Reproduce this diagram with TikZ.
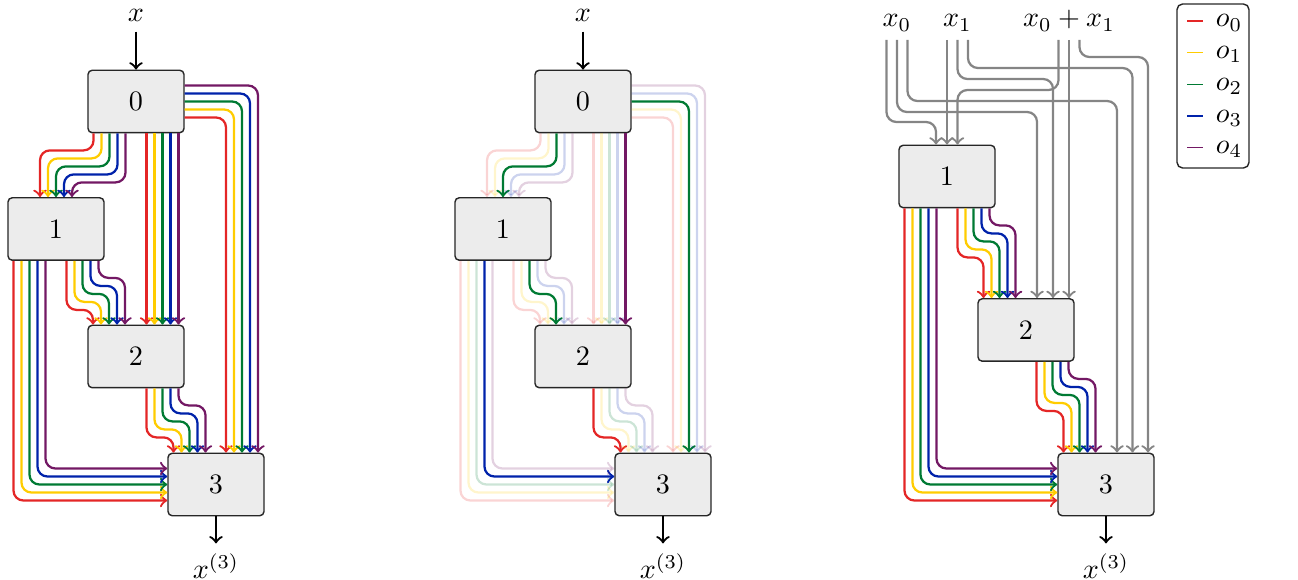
\documentclass[tikz,border=0pt]{standalone}
\usetikzlibrary{calc}

\definecolor{ored}{RGB}{228,38,38}
\definecolor{oyellow}{RGB}{255,204,0}
\definecolor{ogreen}{RGB}{0,122,51}
\definecolor{oblue}{RGB}{0,34,170}
\definecolor{opurple}{RGB}{115,24,100}

\tikzset{
  blk/.style={draw=black!85, line width=0.5pt, fill=gray!15, rounded corners=1.5pt,
    minimum width=1.2cm, minimum height=0.78cm, inner sep=0pt},
  wire/.style={line width=0.8pt, rounded corners=3.5pt, ->},
  gwire/.style={wire, draw=black!48},
  io/.style={line width=0.8pt, ->},
}

% Five-colour wiring of a four-block chain; #1 = name prefix,
% #2..#7 = index of the only opaque wire in each bundle (-1: all opaque)
\newcommand\wiring[7]{%
  \foreach \i/\col in {0/ored,1/oyellow,2/ogreen,3/oblue,4/opurple}{%
    % block 0 -> block 1
    \pgfmathsetmacro\op{(#2==-1) ? 1 : ((\i==#2) ? 1 : 0.2)}
    \draw[wire, draw=\col, opacity=\op] ($(#1b0.south)+(-42.5+8*\i,0)$) -- ++(0,17+8*\i)
      -| ($(#1b1.north)+(-16+8*\i,0)$);
    % block 0 -> block 2
    \pgfmathsetmacro\op{(#3==-1) ? 1 : ((\i==#3) ? 1 : 0.2)}
    \draw[wire, draw=\col, opacity=\op] ($(#1b0.south)+(10.5+8*\i,0)$)
      -- ($(#1b2.north)+(10.5+8*\i,0)$);
    % block 0 -> block 3
    \pgfmathsetmacro\op{(#4==-1) ? 1 : ((\i==#4) ? 1 : 0.2)}
    \draw[wire, draw=\col, opacity=\op] ($(#1b0.east)+(0,16-8*\i)$)
      -| ($(#1b3.north)+(10+8*\i,0)$);
    % block 1 -> block 3
    \pgfmathsetmacro\op{(#5==-1) ? 1 : ((\i==#5) ? 1 : 0.2)}
    \draw[wire, draw=\col, opacity=\op] ($(#1b1.south)+(-42.5+8*\i,0)$)
      |- ($(#1b3.west)+(0,16-8*\i)$);
    % block 1 -> block 2
    \pgfmathsetmacro\op{(#6==-1) ? 1 : ((\i==#6) ? 1 : 0.2)}
    \draw[wire, draw=\col, opacity=\op] ($(#1b1.south)+(10.5+8*\i,0)$) -- ++(0,49-8*\i)
      -| ($(#1b2.north)+(-43+8*\i,0)$);
    % block 2 -> block 3
    \pgfmathsetmacro\op{(#7==-1) ? 1 : ((\i==#7) ? 1 : 0.2)}
    \draw[wire, draw=\col, opacity=\op] ($(#1b2.south)+(10.5+8*\i,0)$) -- ++(0,49-8*\i)
      -| ($(#1b3.north)+(-42.5+8*\i,0)$);
  }%
}

\begin{document}
\begin{tikzpicture}[x=0.0125cm,y=-0.0125cm]
\useasboundingbox (0,0) rectangle (1298,580);

% ---------- dense connections ----------
\node[blk] (ab0) at (136,101.5) {0};
\node[blk] (ab1) at (56,229)    {1};
\node[blk] (ab2) at (136,356.5) {2};
\node[blk] (ab3) at (216,484.5) {3};
\wiring{a}{-1}{-1}{-1}{-1}{-1}{-1}
\node[anchor=south] (ain) at ($(ab0.north)+(0,-38)$) {$x$};
\draw[io] (ain.south) -- (ab0.north);
\node[anchor=north] (aout) at ($(ab3.south)+(0,27)$) {$x^{(3)}$};
\draw[io] (ab3.south) -- (aout.north);

% ---------- one selected path per bundle ----------
\node[blk] (bb0) at (583,101.5) {0};
\node[blk] (bb1) at (503,229)   {1};
\node[blk] (bb2) at (583,356.5) {2};
\node[blk] (bb3) at (663,484.5) {3};
\wiring{b}{2}{4}{2}{3}{2}{0}
\node[anchor=south] (bin) at ($(bb0.north)+(0,-38)$) {$x$};
\draw[io] (bin.south) -- (bb0.north);
\node[anchor=north] (bout) at ($(bb3.south)+(0,27)$) {$x^{(3)}$};
\draw[io] (bb3.south) -- (bout.north);

% ---------- three inputs ----------
\node[blk] (q1) at (947,176.5)  {1};
\node[blk] (q2) at (1026,330)   {2};
\node[blk] (q3) at (1106,484.5) {3};
\node[anchor=base] (lx0)  at (897,27)    {$x_0$};
\node[anchor=base] (lx1)  at (957.5,27)  {$x_1$};
\node[anchor=base] (lx01) at (1069,27)   {$x_0+x_1$};

\draw[gwire] ($(lx0.base)+(-10.5,13)$) -- ($(lx0.base)+(-10.5,95)$) -| ($(q1.north)+(-11,0)$);
\draw[gwire] ($(lx0.base)+(0,13)$)     -- ($(lx0.base)+(0,85)$)     -| ($(q2.north)+(11,0)$);
\draw[gwire] ($(lx0.base)+(10.5,13)$)  -- ($(lx0.base)+(10.5,74)$)  -| ($(q3.north)+(11,0)$);
\draw[gwire] ($(lx1.base)+(-10.5,13)$) -- (q1.north);
\draw[gwire] ($(lx1.base)+(0,13)$)     -- ($(lx1.base)+(0,52)$)     -| ($(q2.north)+(27,0)$);
\draw[gwire] ($(lx1.base)+(10.5,13)$)  -- ($(lx1.base)+(10.5,41)$)  -| ($(q3.north)+(26.5,0)$);
\draw[gwire] ($(lx01.base)+(-10.5,13)$) -- ($(lx01.base)+(-10.5,63)$) -| ($(q1.north)+(10.5,0)$);
\draw[gwire] ($(lx01.base)+(0,13)$)     -- ($(q2.north)+(43,0)$);
\draw[gwire] ($(lx01.base)+(10.5,13)$)  -- ($(lx01.base)+(10.5,30)$)  -| ($(q3.north)+(42,0)$);

\foreach \i/\col in {0/ored,1/oyellow,2/ogreen,3/oblue,4/opurple}{%
  \draw[wire, draw=\col] ($(q1.south)+(-42.5+8*\i,0)$) |- ($(q3.west)+(0,16-8*\i)$);
  \draw[wire, draw=\col] ($(q1.south)+(10.5+8*\i,0)$) -- ++(0,49-8*\i)
    -| ($(q2.north)+(-42.5+8*\i,0)$);
  \draw[wire, draw=\col] ($(q2.south)+(10.5+8*\i,0)$) -- ++(0,49-8*\i)
    -| ($(q3.north)+(-42.5+8*\i,0)$);
}
\node[anchor=north] (qout) at ($(q3.south)+(0,27)$) {$x^{(3)}$};
\draw[io] (q3.south) -- (qout.north);

% ---------- legend ----------
\node[draw=black!85, line width=0.5pt, rounded corners=2pt, minimum width=0.9cm,
  minimum height=2.05cm, inner sep=0pt] (legend) at (1213,86) {};
\foreach \i/\col in {0/ored,1/oyellow,2/ogreen,3/oblue,4/opurple}{%
  \coordinate (ls\i) at ($(legend.north west)+(11,17.7+31.7*\i)$);
  \coordinate (le\i) at ($(ls\i)+(16,0)$);
  \draw[draw=\col, line width=0.4pt] (ls\i) -- (le\i);
  \node[anchor=base west, inner sep=0pt] (lt\i) at ($(le\i)+(12,6)$) {$o_\i$};
}
\end{tikzpicture}
\end{document}
